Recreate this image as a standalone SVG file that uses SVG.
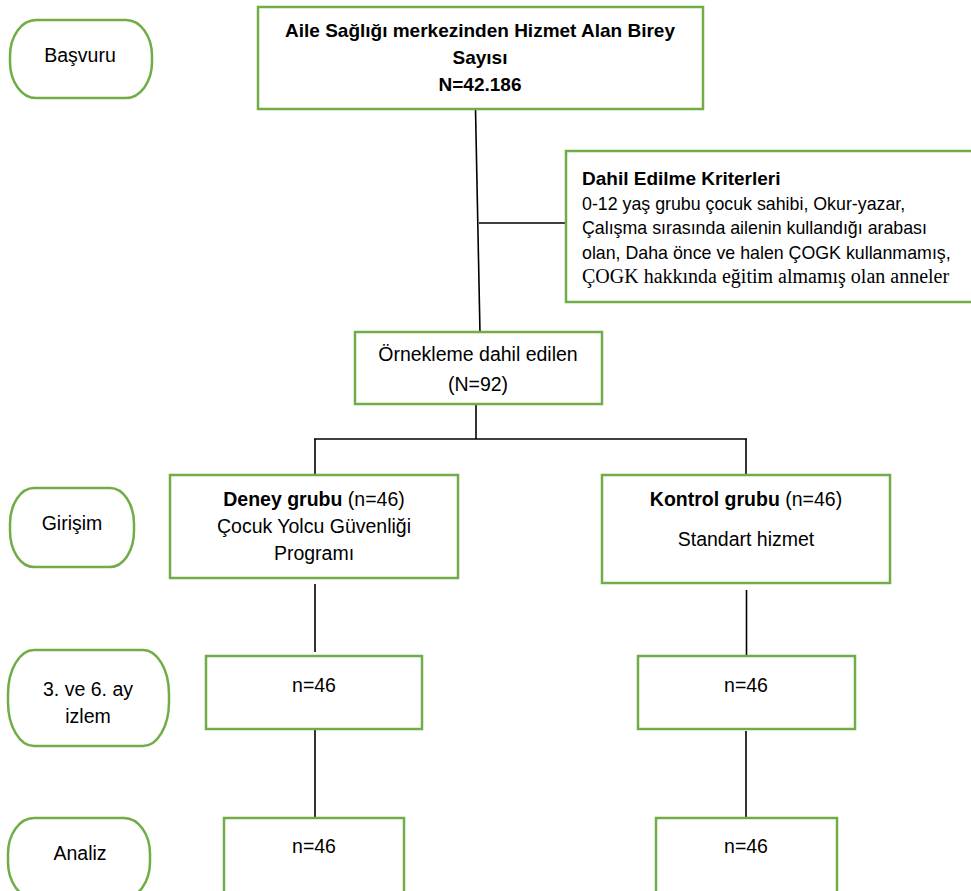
<svg xmlns="http://www.w3.org/2000/svg" width="971" height="891" viewBox="0 0 971 891">
<defs>
<style>
.box{fill:#ffffff;stroke:#70AD47;stroke-width:2.5}
.t{font-family:"Liberation Sans",Arial,sans-serif;font-size:19.5px;fill:#000;text-anchor:middle}
.b{font-weight:bold}
.h{font-size:19px}
.l{text-anchor:start;font-size:17.8px}
.hd{font-size:19px}
.serif{font-family:"Liberation Serif","Times New Roman",serif;font-size:20px}
.c{stroke:#000;stroke-width:1.6;fill:none}
</style>
</defs>
<rect width="971" height="891" fill="#ffffff"/>
<g id="connectors">
<line class="c" x1="475.5" y1="109" x2="480" y2="333"/>
<line class="c" x1="479" y1="223" x2="567" y2="223" stroke-width="2"/>
<line class="c" x1="476" y1="404" x2="476" y2="439"/>
<line class="c" x1="314" y1="439" x2="747" y2="439" stroke-width="2.6"/>
<line class="c" x1="315" y1="439" x2="315" y2="476"/>
<line class="c" x1="746" y1="439" x2="746" y2="476"/>
<line class="c" x1="315" y1="584" x2="315" y2="652"/>
<line class="c" x1="746.5" y1="590" x2="746.5" y2="655"/>
<line class="c" x1="315" y1="729" x2="315" y2="818"/>
<line class="c" x1="746" y1="731" x2="746" y2="818"/>
</g>
<g id="basvuru">
<rect class="box" x="10" y="20" width="142" height="78" rx="26" ry="36"/>
<text class="t" x="80" y="62">Başvuru</text>
</g>
<g id="main">
<rect class="box" x="258" y="7" width="445" height="102"/>
<text class="t b h" x="480" y="37">Aile Sağlığı merkezinden Hizmet Alan Birey</text>
<text class="t b h" x="480" y="64">Sayısı</text>
<text class="t b h" x="480" y="91">N=42.186</text>
</g>
<g id="criteria">
<rect class="box" x="566" y="151" width="420" height="151"/>
<text class="t b l hd" x="582" y="185">Dahil Edilme Kriterleri</text>
<text class="t l" x="582" y="210">0-12 yaş grubu çocuk sahibi, Okur-yazar,</text>
<text class="t l" x="582" y="234">Çalışma sırasında ailenin kullandığı arabası</text>
<text class="t l" x="582" y="259">olan, Daha önce ve halen ÇOGK kullanmamış,</text>
<text class="t l serif" x="582" y="283">ÇOGK hakkında eğitim almamış olan anneler</text>
</g>
<g id="sample">
<rect class="box" x="355" y="332" width="247" height="72"/>
<text class="t" x="478" y="361">Örnekleme dahil edilen</text>
<text class="t" x="478" y="391">(N=92)</text>
</g>
<g id="girisim">
<rect class="box" x="10" y="488" width="124" height="79" rx="24" ry="36"/>
<text class="t" x="72" y="530">Girişim</text>
</g>
<g id="deney">
<rect class="box" x="170" y="475" width="288" height="103"/>
<text class="t" x="314" y="506"><tspan class="b">Deney grubu</tspan> (n=46)</text>
<text class="t" x="314" y="533">Çocuk Yolcu Güvenliği</text>
<text class="t" x="314" y="560">Programı</text>
</g>
<g id="kontrol">
<rect class="box" x="602" y="475" width="288" height="108"/>
<text class="t" x="746" y="506"><tspan class="b">Kontrol grubu</tspan> (n=46)</text>
<text class="t" x="746" y="546">Standart hizmet</text>
</g>
<g id="izlem">
<rect class="box" x="8" y="650" width="161" height="96" rx="26" ry="44"/>
<text class="t" x="88" y="696">3. ve 6. ay</text>
<text class="t" x="88" y="723">izlem</text>
</g>
<g id="deney-izlem">
<rect class="box" x="206" y="656" width="216" height="73"/>
<text class="t" x="314" y="692">n=46</text>
</g>
<g id="kontrol-izlem">
<rect class="box" x="638" y="656" width="217" height="73"/>
<text class="t" x="746" y="692">n=46</text>
</g>
<g id="analiz">
<rect class="box" x="8" y="818" width="142" height="80" rx="26" ry="36"/>
<text class="t" x="80" y="860">Analiz</text>
</g>
<g id="deney-analiz">
<rect class="box" x="224" y="818" width="180" height="76"/>
<text class="t" x="314" y="853">n=46</text>
</g>
<g id="kontrol-analiz">
<rect class="box" x="656" y="818" width="181" height="76"/>
<text class="t" x="746" y="853">n=46</text>
</g>
</svg>
